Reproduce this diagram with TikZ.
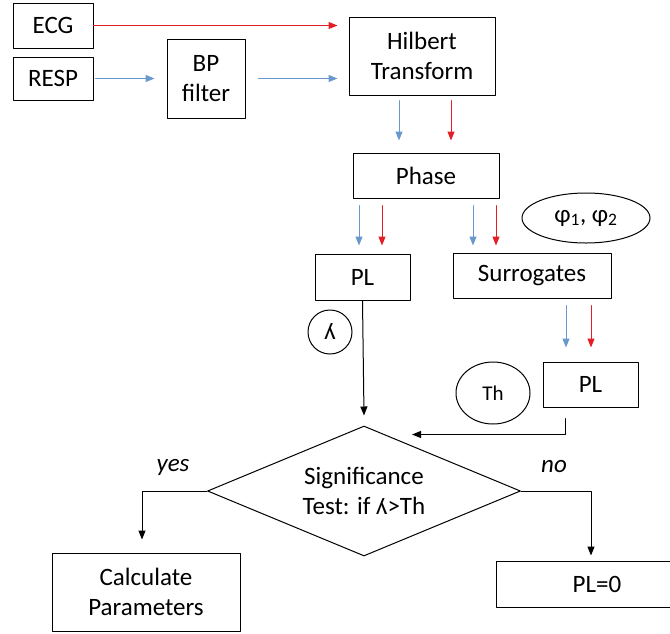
\documentclass[tikz,border=0pt]{standalone}
\usepackage{fontspec}
\setmainfont{Carlito}
\usetikzlibrary{arrows.meta,calc,shapes.geometric}

\definecolor{ecgred}{RGB}{228,30,38}
\definecolor{respblue}{RGB}{104,152,204}

\begin{document}
\begin{tikzpicture}[x=1pt, y=-1pt, line cap=round, line join=round,
  box/.style={draw, line width=1pt, inner sep=2pt, align=center, font=\fontsize{25}{30}\selectfont},
  tip/.style={-{Triangle[length=9pt,width=7pt]}},
  redarr/.style={tip, ecgred, line width=1pt},
  bluearr/.style={tip, respblue, line width=1pt},
  blkarr/.style={tip, black, line width=1pt}]
  % Page frame
  \useasboundingbox (0,0) rectangle (670,633);

  % Input signals and filtering
  \node[box, minimum width=80pt, minimum height=45pt] (ecg) at (53,25.5) {ECG};
  \node[box, minimum width=80pt, minimum height=43pt] (resp) at (53,78.5) {RESP};
  \node[box, minimum width=78pt, minimum height=79pt] (bp) at (206,78.5) {BP\\filter};
  \node[box, minimum width=146pt, minimum height=78pt] (hilbert) at (422,56) {Hilbert\\Transform};

  % Phase extraction and its outputs
  \node[box, minimum width=146pt, minimum height=45pt] (phase) at (426,175.5) {Phase};
  \node[box, minimum width=95pt, minimum height=46pt] (pl) at (362.5,277) {PL};
  \node[box, minimum width=158pt, minimum height=45pt] (surr) at (532,275.5) {Surrogates};
  \node[box, ellipse, inner sep=0pt, minimum width=128pt, minimum height=50pt] (phi) at (586,218) {φ\textsubscript{1}, φ\textsubscript{2}};
  \node[box, circle, inner sep=0pt, minimum size=44pt] (lam) at (330,332) {ʎ};
  \node[box, minimum width=95pt, minimum height=45pt] (pltwo) at (590.5,384.5) {PL};
  \node[box, ellipse, inner sep=0pt, minimum width=74pt, minimum height=62pt,
        font=\fontsize{21}{25}\selectfont] (th) at (493,393) {Th};

  % Decision and results
  \node[box, diamond, aspect=2.4, inner sep=0pt, minimum width=313pt, minimum height=130pt] (sig) at (364,491) {Significance\\Test: if ʎ>Th};
  \node[box, minimum width=188pt, minimum height=78pt] (calc) at (146,592) {Calculate\\Parameters};
  \node[box, minimum width=202pt, minimum height=46pt] (plzero) at (597,584) {PL=0};
  \node[font=\fontsize{25}{30}\selectfont\itshape] (yes) at (173,467) {yes};
  \node[font=\fontsize{25}{30}\selectfont\itshape] (no) at (554,467) {no};

  % ECG (red) and RESP (blue) paths
  \draw[redarr, shorten >=11pt] (ecg.east) -- (ecg.east -| hilbert.west);
  \draw[bluearr, shorten <=2pt, shorten >=12pt] (resp.east) -- (resp.east -| bp.west);
  \draw[bluearr, shorten <=13pt, shorten >=11pt] (bp.east) -- (bp.east -| hilbert.west);

  \draw[bluearr] ($(hilbert.south)+(-23,5)$) -- ++(0,40);
  \draw[redarr]  ($(hilbert.south)+(29,5)$) -- ++(0,40);

  \draw[bluearr] ($(phase.south)+(-67,7)$) -- ++(0,40);
  \draw[redarr]  ($(phase.south)+(-44,7)$) -- ++(0,40);
  \draw[bluearr] ($(phase.south)+(47,7)$) -- ++(0,40);
  \draw[redarr]  ($(phase.south)+(70,7)$) -- ++(0,40);

  \draw[bluearr] ($(surr.south)+(34,7)$) -- ++(0,42);
  \draw[redarr]  ($(surr.south)+(59,7)$) -- ++(0,42);

  % Black connectors to the test and its outcomes
  \draw[blkarr] (pl.south) -- ($(sig.north)+(0,-10)$);
  \draw[blkarr] ($(pltwo.south)+(-25,11)$) |- ($(sig.north)+(48,9)$);
  \draw[blkarr] (sig.west) -| ($(calc.north)+(-4,-13)$);
  \draw[blkarr] (sig.east) -| ($(plzero.north)+(-6,-5)$);
\end{tikzpicture}
\end{document}
